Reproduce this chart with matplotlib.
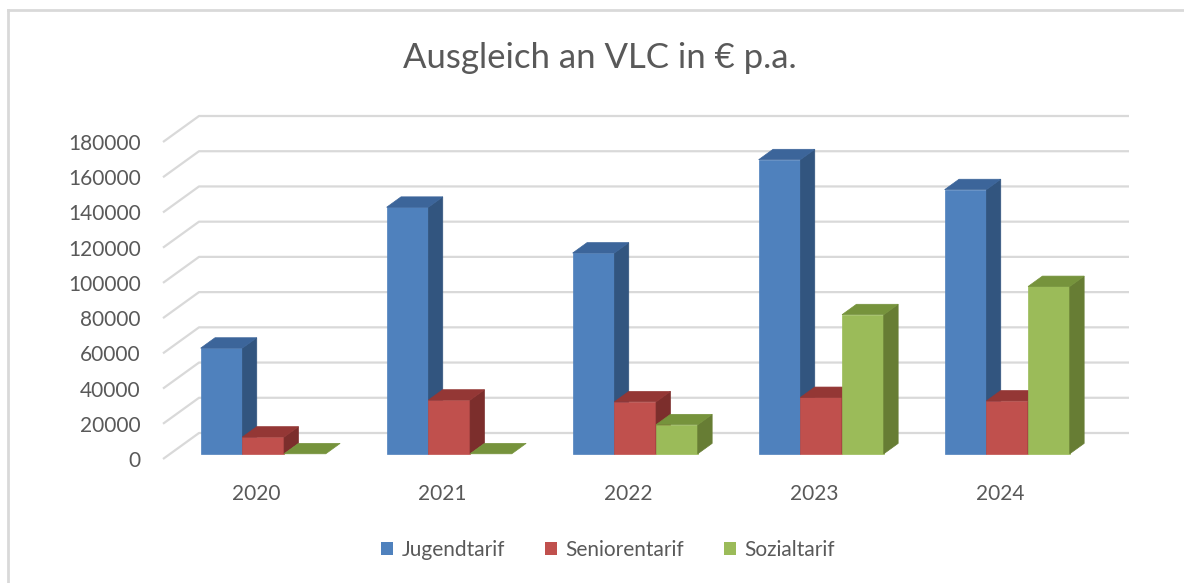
import matplotlib
matplotlib.use("Agg")
import matplotlib.pyplot as plt
from matplotlib.patches import Polygon, Rectangle
from matplotlib.lines import Line2D

years = ["2020", "2021", "2022", "2023", "2024"]
jugendtarif = [60000, 140000, 114000, 167000, 150000]
seniorentarif = [9500, 30500, 29500, 32000, 30000]
sozialtarif = [0, 0, 16500, 79000, 95000]
series_names = ["Jugendtarif", "Seniorentarif", "Sozialtarif"]
yticks = [0, 20000, 40000, 60000, 80000, 100000, 120000, 140000, 160000, 180000]

# front, top, side shades (Excel 2010 look)
colors = [
    ("#4F81BD", "#3C659A", "#32557F"),
    ("#C0504D", "#943735", "#7C2E2C"),
    ("#9BBB59", "#76933C", "#677D34"),
]

plt.rcParams["font.family"] = ["Lato", "DejaVu Sans"]
W, H = 1184, 583
fig = plt.figure(figsize=(W / 100, H / 100), dpi=100)

# axes placed so x in [-0.5, 4.7] and y in [0, ymax]
px_per_cat = 186.0
x_left_px = 163.0
y0_px = 459.0
px_per_val = 317.0 / 180000
xmin, xmax = -0.5, 4.7
ymax = 195000
ax = fig.add_axes([
    x_left_px / W,
    (H - y0_px) / H,
    (xmax - xmin) * px_per_cat / W,
    ymax * px_per_val / H,
])
ax.set_xlim(xmin, xmax)
ax.set_ylim(0, ymax)
ax.axis("off")

# oblique depth of the floor
depth_x = 36.0 / px_per_cat
depth_y = 26.0 / px_per_val
grid_c = "#D9D9D9"
txt_c = "#595959"

for v in yticks:
    ax.plot([-0.5, -0.5 + depth_x, 4.5 + depth_x], [v, v + depth_y, v + depth_y],
            color=grid_c, lw=1.6, solid_capstyle="butt", clip_on=False, zorder=1)
    ax.text(-0.5 - 0.12, v, str(v), ha="right", va="center_baseline",
            fontsize=15, color=txt_c)

bar_w = 41.7 / px_per_cat
f0, f1 = 0.2, 0.6
data = [jugendtarif, seniorentarif, sozialtarif]
for i, yr in enumerate(years):
    for j, vals in enumerate(data):
        v = vals[i]
        front, top, side = colors[j]
        x0 = i + (j - 1.5) * bar_w + f0 * depth_x
        x1 = x0 + bar_w
        yb = f0 * depth_y
        yt = yb + v
        ddx = (f1 - f0) * depth_x
        ddy = (f1 - f0) * depth_y
        z = 2 + i * 3 + j
        if v > 0:
            ax.add_patch(Rectangle((x0, yb), bar_w, v, facecolor=front,
                                   edgecolor=front, lw=0.5, zorder=z))
            ax.add_patch(Polygon([(x1, yb), (x1 + ddx, yb + ddy), (x1 + ddx, yt + ddy), (x1, yt)],
                                 closed=True, facecolor=side, edgecolor=side, lw=0.5, zorder=z))
        ax.add_patch(Polygon([(x0, yt), (x1, yt), (x1 + ddx, yt + ddy), (x0 + ddx, yt + ddy)],
                             closed=True, facecolor=top, edgecolor=top, lw=0.5, zorder=z))
    ax.text(i, -19000, yr, ha="center", va="center_baseline", fontsize=15, color=txt_c)

fig.text(600 / W, 1 - 58 / H, "Ausgleich an VLC in € p.a.", ha="center", va="center",
         fontsize=25, color=txt_c)

handles = [Rectangle((0, 0), 1, 1, facecolor=c[0], edgecolor="none") for c in colors]
fig.legend(handles, series_names, loc="center", bbox_to_anchor=(608 / W, 1 - 550 / H),
           ncol=3, frameon=False, fontsize=15, labelcolor=txt_c,
           handlelength=0.6, handleheight=0.6, handletextpad=0.4, columnspacing=1.9)

# chart border (top and left visible)
fig.add_artist(Line2D([8 / W, 8 / W], [0, 1 - 10 / H], color="#D9D9D9", lw=2))
fig.add_artist(Line2D([8 / W, 1], [1 - 10 / H, 1 - 10 / H], color="#D9D9D9", lw=2))

fig.savefig("out.png", dpi=100)
